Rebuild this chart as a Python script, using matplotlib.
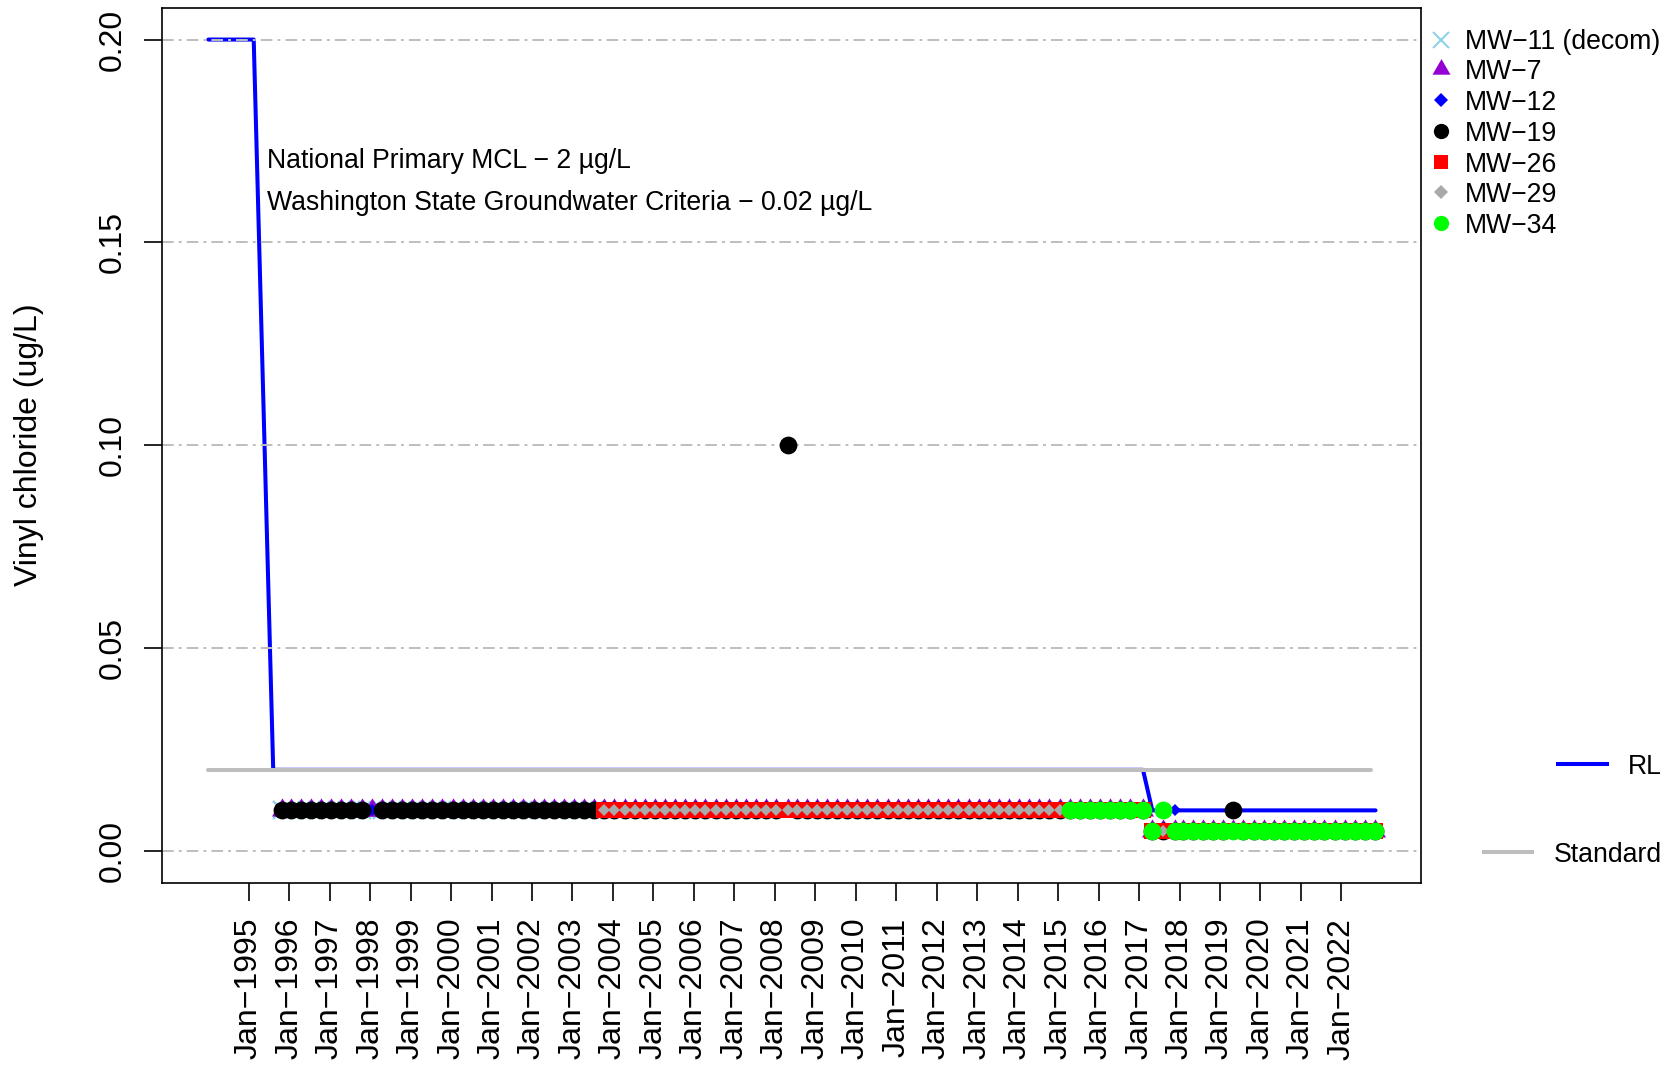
import matplotlib
matplotlib.use("Agg")
import matplotlib.pyplot as plt
from matplotlib.lines import Line2D
from datetime import datetime

plt.rcParams['font.family'] = ['Liberation Sans', 'DejaVu Sans']

# ---------------------------------------------------------------- data
# quarterly sampling rounds
rounds = [
    "1995-11-01",
    "1996-01-15", "1996-04-15", "1996-07-15", "1996-10-15",
    "1997-01-15", "1997-04-15", "1997-07-15", "1997-10-15",
    "1998-01-15", "1998-04-15", "1998-07-15", "1998-10-15",
    "1999-01-15", "1999-04-15", "1999-07-15", "1999-10-15",
    "2000-01-15", "2000-04-15", "2000-07-15", "2000-10-15",
    "2001-01-15", "2001-04-15", "2001-07-15", "2001-10-15",
    "2002-01-15", "2002-04-15", "2002-07-15", "2002-10-15",
    "2003-01-15", "2003-04-15", "2003-07-15", "2003-10-15",
    "2004-01-15", "2004-04-15", "2004-07-15", "2004-10-15",
    "2005-01-15", "2005-04-15", "2005-07-15", "2005-10-15",
    "2006-01-15", "2006-04-15", "2006-07-15", "2006-10-15",
    "2007-01-15", "2007-04-15", "2007-07-15", "2007-10-15",
    "2008-01-15", "2008-04-25", "2008-07-15", "2008-10-15",
    "2009-01-15", "2009-04-15", "2009-07-15", "2009-10-15",
    "2010-01-15", "2010-04-15", "2010-07-15", "2010-10-15",
    "2011-01-15", "2011-04-15", "2011-07-15", "2011-10-15",
    "2012-01-15", "2012-04-15", "2012-07-15", "2012-10-15",
    "2013-01-15", "2013-04-15", "2013-07-15", "2013-10-15",
    "2014-01-15", "2014-04-15", "2014-07-15", "2014-10-15",
    "2015-01-15", "2015-04-15", "2015-07-15", "2015-10-15",
    "2016-01-15", "2016-04-15", "2016-07-15", "2016-10-15",
    "2017-02-01",
    "2017-04-30", "2017-08-05", "2017-11-20",
    "2018-02-01", "2018-05-01", "2018-08-01", "2018-11-01",
    "2019-02-01", "2019-05-01", "2019-08-01", "2019-11-01",
    "2020-02-01", "2020-05-01", "2020-08-01", "2020-11-01",
    "2021-02-01", "2021-05-01", "2021-08-01", "2021-11-01",
    "2022-02-01", "2022-05-01", "2022-08-01", "2022-11-01",
]

# results per well: (first round, last round, value in ug/L)
mw11_runs = [("1995-11-01", "2003-07-15", 0.01)]
mw7_runs = [("1995-11-01", "2017-02-01", 0.01),
            ("2017-04-30", "2022-11-01", 0.005)]
mw12_runs = [("1995-11-01", "2017-02-01", 0.01),
             ("2017-04-30", "2017-08-05", 0.005),
             ("2017-11-20", "2017-11-20", 0.01),
             ("2018-02-01", "2022-11-01", 0.005)]
mw19_runs = [("1995-11-01", "1997-10-15", 0.01),
             ("1998-04-15", "2008-01-15", 0.01),
             ("2008-04-25", "2008-04-25", 0.1),
             ("2008-07-15", "2017-02-01", 0.01),
             ("2017-04-30", "2019-02-01", 0.005),
             ("2019-05-01", "2019-05-01", 0.01),
             ("2019-08-01", "2022-11-01", 0.005)]
mw26_runs = [("2003-10-15", "2017-02-01", 0.01),
             ("2017-04-30", "2022-11-01", 0.005)]
mw29_runs = [("2003-10-15", "2017-02-01", 0.01),
             ("2017-04-30", "2022-11-01", 0.005)]
mw34_runs = [("2015-04-15", "2017-02-01", 0.01),
             ("2017-04-30", "2017-04-30", 0.005),
             ("2017-08-05", "2017-08-05", 0.01),
             ("2017-11-20", "2022-11-01", 0.005)]

# reporting limit and standard
rl_dates = ["1994-01-01", "1995-02-15", "1995-08-10", "2017-02-05", "2017-04-30", "2022-11-05"]
rl_values = [0.2, 0.2, 0.02, 0.02, 0.01, 0.01]
std_dates = ["1994-01-01", "2022-09-25"]
std_values = [0.02, 0.02]

year_ticks = list(range(1995, 2023))
y_ticks = [0.00, 0.05, 0.10, 0.15, 0.20]
y_tick_labels = ["0.00", "0.05", "0.10", "0.15", "0.20"]

wells = ["MW\u221211 (decom)", "MW\u22127", "MW\u221212", "MW\u221219",
         "MW\u221226", "MW\u221229", "MW\u221234"]

# ---------------------------------------------------------------- helpers
def to_dt(s):
    return datetime.strptime(s, "%Y-%m-%d")


def expand(runs):
    d, v = [], []
    for start, end, val in runs:
        for r in rounds:
            if start <= r <= end:
                d.append(to_dt(r))
                v.append(val)
    return d, v


# R-style filled triangle (centroid at the marker centre)
tri = [(0, 1), (-0.866, -0.5), (0.866, -0.5), (0, 1)]

styles = [
    dict(marker="x", color="#87CEEB", ms=12.5, mew=1.6, lms=11),
    dict(marker=tri, color="#9400D3", ms=17.5, mew=0, lms=15),
    dict(marker="D", color="#0000FF", ms=6.5, mew=0, lms=7),
    dict(marker="o", color="#000000", ms=12.8, mew=0, lms=11),
    dict(marker="s", color="#FF0000", ms=11.8, mew=0, lms=9.5),
    dict(marker="D", color="#A9A9A9", ms=6.5, mew=0, lms=7),
    dict(marker="o", color="#00FF00", ms=12.8, mew=0, lms=11),
]
all_runs = [mw11_runs, mw7_runs, mw12_runs, mw19_runs, mw26_runs, mw29_runs, mw34_runs]

# ---------------------------------------------------------------- figure
W, H = 1674, 1065
fig = plt.figure(figsize=(W / 100, H / 100), dpi=100)
ax = fig.add_axes([162.3 / W, 1 - 883 / H, (1421 - 162.3) / W, (883 - 7.5) / H])

ax.plot([to_dt(s) for s in rl_dates], rl_values, color="#0000FF", lw=2.9,
        solid_capstyle="round", solid_joinstyle="round", zorder=1)

for yv in y_ticks:
    ax.axhline(yv, color="#BEBEBE", lw=1.4, linestyle=(0, (6, 2.6, 1.5, 2.6)), zorder=1.5)

ax.plot([to_dt(s) for s in std_dates], std_values, color="#BEBEBE", lw=2.9,
        solid_capstyle="round", zorder=2)

for i, (runs, st) in enumerate(zip(all_runs, styles)):
    d, v = expand(runs)
    ax.plot(d, v, linestyle="none", marker=st["marker"], color=st["color"],
            markersize=st["ms"], markeredgewidth=st["mew"],
            markeredgecolor=st["color"], zorder=3 + i * 0.1)

ax.set_xlim(datetime(1992, 11, 12), datetime(2023, 12, 20))
ax.set_ylim(-0.0079, 0.2079)

ax.set_xticks([datetime(y, 1, 1) for y in year_ticks])
ax.set_xticklabels([f"Jan\u2212{y}" for y in year_ticks], rotation=90,
                   fontsize=23, va="top", ha="center")
ax.set_yticks(y_ticks)
ax.set_yticklabels(y_tick_labels, rotation=90, fontsize=23, va="center", ha="right")
ax.tick_params(axis="both", length=13, width=1.2, color="black")
ax.tick_params(axis="x", pad=12)
ax.tick_params(axis="y", pad=12)
for sp in ax.spines.values():
    sp.set_linewidth(1.2)

fig.text(29 / W, 1 - 445 / H, "Vinyl chloride (ug/L)", rotation=90,
         ha="center", va="center", fontsize=23)

# annotations
fs_small = 19.2
fig.text(267 / W, 1 - 168.5 / H, "National Primary MCL \u2212 2 \u00b5g/L",
         ha="left", va="baseline", fontsize=fs_small)
fig.text(267 / W, 1 - 209.5 / H,
         "Washington State Groundwater Criteria \u2212 0.02 \u00b5g/L",
         ha="left", va="baseline", fontsize=fs_small)

# well legend
row_y = [39.5, 69.4, 100.4, 131.3, 162.3, 192.2, 223.1]
for name, st, yy in zip(wells, styles, row_y):
    mk = st["marker"]
    fig.add_artist(Line2D([1441 / W], [1 - yy / H], linestyle="none", marker=mk,
                          color=st["color"], markersize=st["lms"],
                          markeredgewidth=(1.4 if mk == "x" else 0),
                          markeredgecolor=st["color"]))
    fig.text(1464.7 / W, 1 - (yy + 9.5) / H, name, ha="left", va="baseline",
             fontsize=fs_small)

# line legend
fig.add_artist(Line2D([1558 / W, 1607 / W], [1 - 764 / H, 1 - 764 / H],
                      color="#0000FF", lw=2.9))
fig.text(1628 / W, 1 - (764 + 9.5) / H, "RL", ha="left", va="baseline", fontsize=fs_small)
fig.add_artist(Line2D([1484 / W, 1532 / W], [1 - 852 / H, 1 - 852 / H],
                      color="#BEBEBE", lw=2.9))
fig.text(1554 / W, 1 - (852 + 9.5) / H, "Standard", ha="left", va="baseline",
         fontsize=fs_small)

fig.savefig("out.png", dpi=100)
